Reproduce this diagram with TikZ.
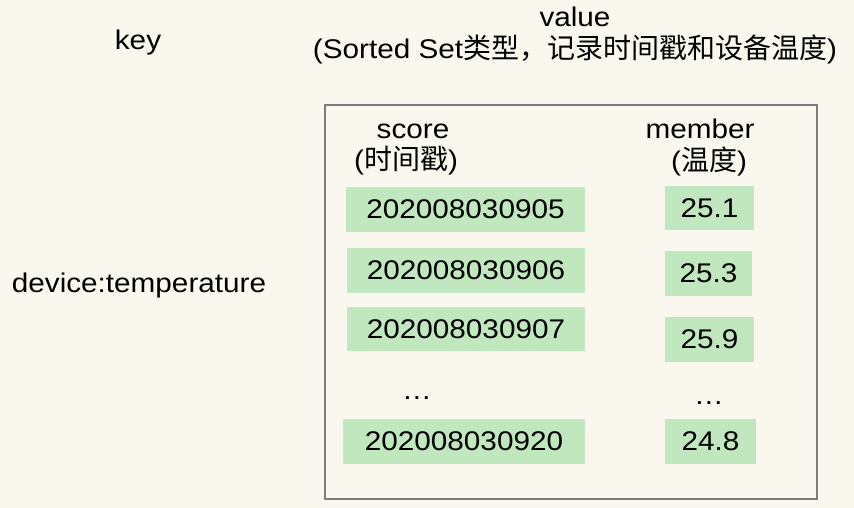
\documentclass[tikz,border=0pt]{standalone}
\usepackage{fontspec}
\setmainfont[FakeStretch=1.1]{Liberation Sans}
\newfontfamily\cjk[Scale=1.037]{Noto Sans CJK SC}
\definecolor{bg}{HTML}{FAF8EE}
\definecolor{cell}{HTML}{C1E7BF}
\definecolor{frame}{HTML}{7C7C7C}
\begin{document}
\begin{tikzpicture}[x=1pt,y=-1pt,
  txt/.style={inner sep=0pt, font=\fontsize{27}{30}\selectfont},
  cellbox/.style={fill=cell, inner sep=0pt, minimum height=45pt, font=\fontsize{27}{30}\selectfont}]
\fill[bg] (0,0) rectangle (854,508);
\useasboundingbox (0,0) rectangle (854,508);
% titles
\node[txt] (key) at (138,43) {key};
\node[txt] (value) at (575,17) {value};
\node[txt] (valuesub) at (575,49) {(Sorted Set{\cjk 类型，记录时间戳和设备温度})};
\node[txt] (dev) at (139,286) {device:temperature};
% frame
\draw[frame, line width=2.5pt] (325,105) rectangle (817,499);
% column headers
\node[txt] (score) at (413,131) {score};
\node[txt] (scoresub) at (406,161) {({\cjk 时间戳})};
\node[txt] (member) at (700,129) {member};
\node[txt] (membersub) at (709,161) {({\cjk 温度})};
% score cells
\node[cellbox, minimum width=239pt] (s1) at (465.5,209.5) {202008030905};
\node[cellbox, minimum width=238pt] (s2) at (466,270.5) {202008030906};
\node[cellbox, minimum width=238pt, minimum height=44pt] (s3) at (466,329) {202008030907};
\node[cellbox, minimum width=242pt] (s4) at (464,441.5) {202008030920};
% member cells
\node[cellbox, minimum width=89pt, minimum height=44pt] (m1) at (709.5,208) {25.1};
\node[cellbox, minimum width=87pt] (m2) at (708.5,273.5) {25.3};
\node[cellbox, minimum width=89pt] (m3) at (709.5,339.5) {25.9};
\node[cellbox, minimum width=91pt] (m4) at (710.5,441.5) {24.8};
% ellipses
\node[txt] (sdots) at (417,398) {…};
\node[txt] (mdots) at (709,403) {…};
\end{tikzpicture}
\end{document}
